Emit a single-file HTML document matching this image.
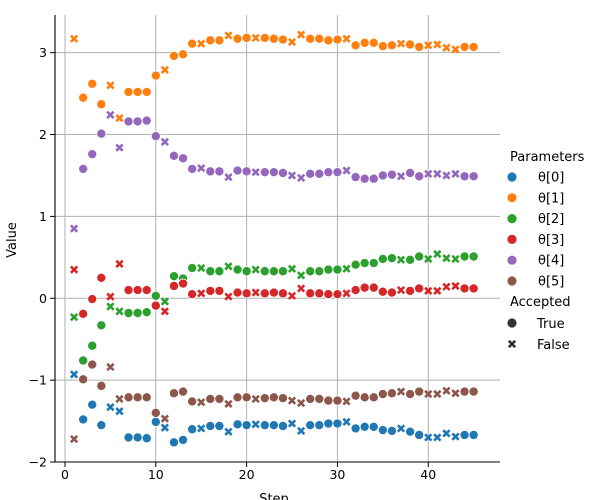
<!DOCTYPE html>
<html><head><meta charset="utf-8"><style>
body{margin:0;background:#fff}
svg{display:block;font-family:"DejaVu Sans","Liberation Sans",sans-serif}
</style></head><body>
<svg id="chart" width="601" height="500" viewBox="0 0 601 500" xmlns="http://www.w3.org/2000/svg">
<g id="grid"></g>
<g id="marks"></g>
<g id="axes"></g>
<text x="274" y="503" font-size="13" text-anchor="middle" fill="#000">Step</text>
<text transform="translate(16,240) rotate(-90)" font-size="13" text-anchor="middle" fill="#000">Value</text>
<g id="legend"></g>
</svg>
<script>
const steps = Array.from({length:45},(_,i)=>i+1);
const accepted = [0,1,1,1,0,0,1,1,1,1,0,1,1,1,0,1,1,0,1,1,0,1,1,1,0,0,1,1,1,1,0,1,1,1,1,1,0,1,1,0,0,0,0,1,1];
const theta0 = [-0.93,-1.48,-1.30,-1.55,-1.33,-1.38,-1.70,-1.70,-1.71,-1.51,-1.58,-1.76,-1.73,-1.60,-1.59,-1.56,-1.56,-1.63,-1.54,-1.55,-1.54,-1.55,-1.55,-1.56,-1.53,-1.62,-1.55,-1.55,-1.53,-1.53,-1.51,-1.59,-1.57,-1.57,-1.61,-1.62,-1.59,-1.63,-1.67,-1.70,-1.70,-1.65,-1.69,-1.67,-1.67];
const theta1 = [3.17,2.45,2.62,2.37,2.60,2.20,2.52,2.52,2.52,2.72,2.79,2.96,2.98,3.11,3.11,3.15,3.15,3.21,3.17,3.18,3.18,3.18,3.17,3.16,3.13,3.22,3.17,3.17,3.15,3.16,3.17,3.09,3.12,3.12,3.08,3.09,3.11,3.10,3.07,3.09,3.10,3.06,3.04,3.07,3.07];
const theta2 = [-0.23,-0.76,-0.58,-0.33,-0.10,-0.16,-0.18,-0.18,-0.17,0.03,-0.04,0.27,0.24,0.37,0.37,0.33,0.33,0.39,0.35,0.33,0.35,0.33,0.33,0.33,0.36,0.28,0.33,0.33,0.35,0.35,0.36,0.41,0.43,0.43,0.48,0.49,0.47,0.47,0.51,0.48,0.54,0.49,0.48,0.51,0.51];
const theta3 = [0.35,-0.19,-0.01,0.25,0.02,0.42,0.10,0.10,0.10,-0.09,-0.16,0.15,0.18,0.05,0.06,0.09,0.09,0.02,0.07,0.06,0.07,0.06,0.07,0.06,0.03,0.12,0.06,0.06,0.05,0.05,0.06,0.10,0.13,0.13,0.08,0.07,0.10,0.09,0.12,0.09,0.09,0.14,0.15,0.12,0.12];
const theta4 = [0.85,1.58,1.76,2.01,2.24,1.84,2.16,2.16,2.17,1.98,1.91,1.74,1.71,1.58,1.59,1.55,1.55,1.48,1.56,1.55,1.54,1.54,1.54,1.53,1.50,1.47,1.52,1.52,1.54,1.54,1.56,1.48,1.46,1.46,1.50,1.51,1.49,1.53,1.49,1.52,1.52,1.50,1.52,1.49,1.49];
const theta5 = [-1.72,-0.99,-0.81,-1.07,-0.84,-1.23,-1.21,-1.21,-1.21,-1.40,-1.47,-1.16,-1.14,-1.26,-1.27,-1.23,-1.23,-1.29,-1.21,-1.21,-1.23,-1.22,-1.21,-1.22,-1.25,-1.28,-1.23,-1.23,-1.25,-1.25,-1.26,-1.19,-1.21,-1.21,-1.17,-1.16,-1.14,-1.17,-1.14,-1.17,-1.17,-1.13,-1.16,-1.14,-1.14];
const seriesNames = ["θ[0]","θ[1]","θ[2]","θ[3]","θ[4]","θ[5]"];
const seriesColors = ["#1f77b4","#ff7f0e","#2ca02c","#d62728","#9467bd","#8c564b"];
const xTicks = [0,10,20,30,40];
const yTicks = [-2,-1,0,1,2,3];

const NS="http://www.w3.org/2000/svg";
const X0=55,X1=500,Y0=15,Y1=462;
const xMin=-1.1,xMax=47.9,yMin=-2.0,yMax=3.46;
const xs=v=>X0+(v-xMin)/(xMax-xMin)*(X1-X0);
const ys=v=>Y1-(v-yMin)/(yMax-yMin)*(Y1-Y0);
function mk(tag,attrs,parent){const e=document.createElementNS(NS,tag);for(const k in attrs)e.setAttribute(k,attrs[k]);parent.appendChild(e);return e;}
const grid=document.getElementById('grid'),marks=document.getElementById('marks'),axes=document.getElementById('axes'),legend=document.getElementById('legend');
xTicks.forEach(t=>{
  const l=mk('line',{x1:xs(t),x2:xs(t),y1:Y0,y2:Y1,stroke:'#b0b0b0','stroke-width':1},grid);
  
  
  const tk=mk('line',{x1:xs(t),x2:xs(t),y1:Y1,y2:Y1+5,stroke:'#000','stroke-width':1},axes);
  
  
  const tx=mk('text',{x:xs(t),y:Y1+17,'font-size':12.5,'text-anchor':'middle',fill:'#000'},axes);
  tx.textContent=t;
  
  
});
yTicks.forEach(t=>{
  const l=mk('line',{x1:X0,x2:X1,y1:ys(t),y2:ys(t),stroke:'#b0b0b0','stroke-width':1},grid);
  
  
  const tk=mk('line',{x1:X0-5,x2:X0,y1:ys(t),y2:ys(t),stroke:'#000','stroke-width':1},axes);
  
  
  const tx=mk('text',{x:X0-8,y:ys(t)+4.5,'font-size':12.5,'text-anchor':'end',fill:'#000'},axes);
  tx.textContent=t<0?'\u2212'+Math.abs(t):t;
  
  
});
const ax=mk('path',{d:`M${X0},${Y0}V${Y1}H${X1}`,fill:'none',stroke:'#000','stroke-width':1.1},axes);



function drawX(cx,cy,color,parent){
  const s=3.2;
  return mk('path',{d:`M${cx-s},${cy-s}L${cx+s},${cy+s}M${cx-s},${cy+s}L${cx+s},${cy-s}`,stroke:color,'stroke-width':2.6,'stroke-linecap':'butt',fill:'none'},parent);
}
const allSeries=[theta0,theta1,theta2,theta3,theta4,theta5];
allSeries.forEach((vals,si)=>{
  const g=mk('g',{},marks);
  
  
  vals.forEach((v,i)=>{
    const cx=xs(steps[i]),cy=ys(v);
    let e;
    if(accepted[i]) e=mk('circle',{cx:cx,cy:cy,r:4.6,fill:seriesColors[si],stroke:'#fff','stroke-width':0.8},g);
    else e=drawX(cx,cy,seriesColors[si],g);
    
    
  });
});
// legend
const t1=mk('text',{x:510,y:161,'font-size':13,fill:'#000'},legend);
t1.textContent='Parameters';


seriesNames.forEach((n,i)=>{
  const y=177+i*20.8;
  const g=mk('g',{},legend);
  
  
  mk('circle',{cx:512,cy:y,r:4.6,fill:seriesColors[i]},g);
  const t=mk('text',{x:538,y:y+4.5,'font-size':13,fill:'#000'},g);
  t.textContent=n;
});
const t2=mk('text',{x:510,y:306,'font-size':13,fill:'#000'},legend);
t2.textContent='Accepted';


const gT=mk('g',{},legend);


mk('circle',{cx:512,cy:323,r:4.6,fill:'#333'},gT);
const tt=mk('text',{x:537,y:328,'font-size':13,fill:'#000'},gT);tt.textContent='True';
const gF=mk('g',{},legend);


drawX(512,344,'#333',gF);
const tf=mk('text',{x:537,y:349,'font-size':13,fill:'#000'},gF);tf.textContent='False';
</script>
</body></html>
